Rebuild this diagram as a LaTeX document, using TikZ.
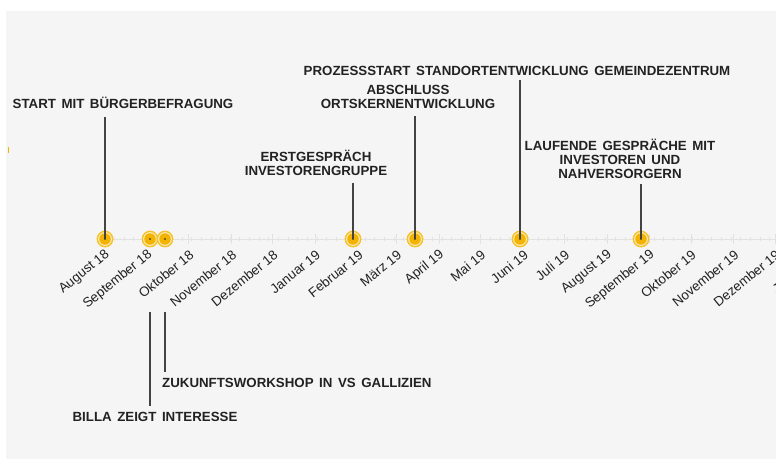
\documentclass[tikz,border=0pt]{standalone}
\usepackage{fontspec}
\setmainfont{Liberation Sans}
\newfontfamily\labelfont[WordSpace=1.5]{Liberation Sans}
\usepackage{tikz}

\definecolor{panel}{HTML}{F5F5F5}
\definecolor{gold}{HTML}{F2B400}
\definecolor{goldring}{HTML}{F5C02A}
\definecolor{goldpale}{HTML}{FBEBB8}
\definecolor{axisgrey}{HTML}{E2E2E2}
\definecolor{inkdark}{HTML}{222222}

\tikzset{
    evdot/.style={circle, fill=gold, minimum size=11.5pt, inner sep=0pt,
        path picture={\fill[inkdark!70!gold] (path picture bounding box.center) circle (1.1pt);}},
    evlabel/.style={font=\labelfont\fontsize{13.3}{14}\selectfont\bfseries, text=inkdark, align=center, inner sep=0pt},
    monthlabel/.style={font=\fontsize{13.4}{14}\selectfont, text=inkdark, anchor=east, rotate=39, inner sep=0pt},
    stem/.style={draw=inkdark!85, line width=1.4pt}
}

\newcommand{\eventdot}[2]{%
    \fill[goldring] (#2,239) circle (8.4);
    \fill[goldpale] (#2,239) circle (6.9);
    \node[evdot] (#1) at (#2,239) {};
}

\begin{document}
\begin{tikzpicture}[x=1pt, y=-1pt]
    % Background panel
    \useasboundingbox (0,0) rectangle (776,459);
    \fill[panel] (6,10.5) rectangle (776,459);
    \fill[gold] (7.5,147) rectangle (9,153);

    % Draw the time axis
    \draw[axisgrey, line width=1pt] (98,239) -- (776,239);
    \foreach \w in {0,...,72} {
        \draw[axisgrey, line width=0.8pt] ({105+1.376*7*\w},237) -- ++(0,4);
    }

    % Month ticks and labels
    \foreach \d/\m in {0/August 18, 31/September 18, 61/Oktober 18, 92/November 18,
        122/Dezember 18, 153/Januar 19, 184/Februar 19, 212/März 19, 243/April 19,
        273/Mai 19, 304/Juni 19, 334/Juli 19, 365/August 19, 396/September 19,
        426/Oktober 19, 457/November 19, 487/Dezember 19, 518/Januar 20} {
        \draw[axisgrey, line width=1pt] ({105+1.376*\d},234) -- ++(0,10);
        \node[monthlabel] (m\d) at ({108+1.376*\d},253) {\m};
    }

    % Events on the axis
    \eventdot{befragung}{105}
    \eventdot{billa}{150}
    \eventdot{workshop}{165}
    \eventdot{erstgespraech}{353}
    \eventdot{abschluss}{415}
    \eventdot{prozess}{520}
    \eventdot{gespraeche}{641}

    % Event labels
    \node[evlabel] (lbefragung) at (123,103) {START MIT BÜRGERBEFRAGUNG};
    \node[evlabel] (lbilla) at (155,417) {BILLA ZEIGT INTERESSE};
    \node[evlabel, anchor=west] (lworkshop) at (162,383) {ZUKUNFTSWORKSHOP IN VS GALLIZIEN};
    \node[evlabel] (lerstgespraech) at (316,163) {ERSTGESPRÄCH\\INVESTORENGRUPPE};
    \node[evlabel] (labschluss) at (408,97) {ABSCHLUSS\\ORTSKERNENTWICKLUNG};
    \node[evlabel] (lprozess) at (517,71) {PROZESSSTART STANDORTENTWICKLUNG GEMEINDEZENTRUM};
    \node[evlabel] (lgespraeche) at (620,159) {LAUFENDE GESPRÄCHE MIT\\INVESTOREN UND\\NAHVERSORGERN};

    % Stems from the dots to the labels
    \draw[stem, shorten >=8pt] (befragung.center) -- (befragung |- lbefragung.south);
    \draw[stem, shorten >=7pt] (erstgespraech.center) -- (erstgespraech |- lerstgespraech.south);
    \draw[stem, shorten >=7pt] (abschluss.center) -- (abschluss |- labschluss.south);
    \draw[stem, shorten >=4pt] (prozess.center) -- (prozess |- lprozess.south);
    \draw[stem, shorten >=5pt] (gespraeche.center) -- (gespraeche |- lgespraeche.south);
    \draw[stem, shorten <=73pt, shorten >=6pt] (billa.center) -- (billa |- lbilla.north);
    \draw[stem, shorten <=73pt, shorten >=6pt] (workshop.center) -- (workshop |- lworkshop.north);
\end{tikzpicture}
\end{document}
